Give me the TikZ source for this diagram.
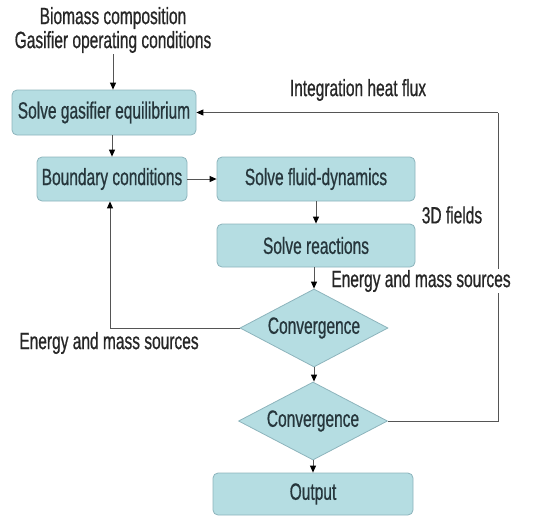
\documentclass[tikz,border=0pt]{standalone}
\usepackage{fontspec}
\setmainfont[FakeStretch=0.66,FakeBold=0.7]{Liberation Sans}
\usetikzlibrary{shapes.geometric,arrows.meta}
\definecolor{boxfill}{HTML}{B5DDE2}
\definecolor{boxline}{HTML}{8DB4BC}
\definecolor{boxtext}{HTML}{26363C}
\definecolor{linec}{HTML}{555555}
\begin{document}
\begin{tikzpicture}[x=1pt,y=-1pt,
  font=\fontsize{23.5}{24}\selectfont,
  box/.style={draw=boxline,fill=boxfill,rounded corners=5pt,line width=0.8pt,text=boxtext,inner sep=0pt},
  dia/.style={draw=boxline,fill=boxfill,diamond,aspect=1.9,line width=0.8pt,text=boxtext,inner sep=0pt},
  lbl/.style={text=black!85,inner sep=1pt},
  conn/.style={draw=linec,line width=0.9pt,-{Triangle[length=7pt,width=6pt,black]}},
  plain/.style={draw=linec,line width=0.9pt}]
\useasboundingbox (0,0) rectangle (533,515);
\node[lbl,align=center] (inp) at (113,30) {Biomass composition\\Gasifier operating conditions};
\node[box,minimum width=184pt,minimum height=45pt] (b1) at (104,112.5) {Solve gasifier equilibrium};
\node[box,minimum width=150pt,minimum height=44pt] (b2) at (112,179) {Boundary conditions};
\node[box,minimum width=198pt,minimum height=44pt] (b3) at (316,179) {Solve fluid-dynamics};
\node[box,minimum width=198pt,minimum height=43pt] (b4) at (316,245.5) {Solve reactions};
\node[dia,minimum width=148pt,minimum height=78pt] (d1) at (314,328) {Convergence};
\node[dia,minimum width=149pt,minimum height=78pt] (d2) at (313,421) {Convergence};
\node[box,minimum width=200pt,minimum height=42pt] (out) at (313,494) {Output};
\coordinate (rt) at (498,112.5);
\draw[conn] (inp.south) -- (inp.south |- b1.north);
\draw[conn] (b1.south -| b2.north) -- (b2.north);
\draw[conn] (b2.east) -- (b3.west);
\draw[conn] (b3.south) -- (b4.north);
\draw[conn] (b4.south -| d1.north) -- (d1.north);
\draw[conn] (d1.south) -- (d1.south |- d2.north);
\draw[conn] (d2.south) -- (d2.south |- out.north);
\draw[conn] (d1.west) -| ([xshift=-2pt]b2.south);
\draw[plain] (d2.east) -| (rt);
\draw[conn] (rt) -- (b1.east);
\node[lbl] (ihf) at (358,90) {Integration heat flux};
\node[lbl] (f3d) at (452,215) {3D fields};
\node[lbl,fill=white] (ems1) at (421,281) {Energy and mass sources};
\node[lbl] (ems2) at (109,343) {Energy and mass sources};
\end{tikzpicture}
\end{document}
